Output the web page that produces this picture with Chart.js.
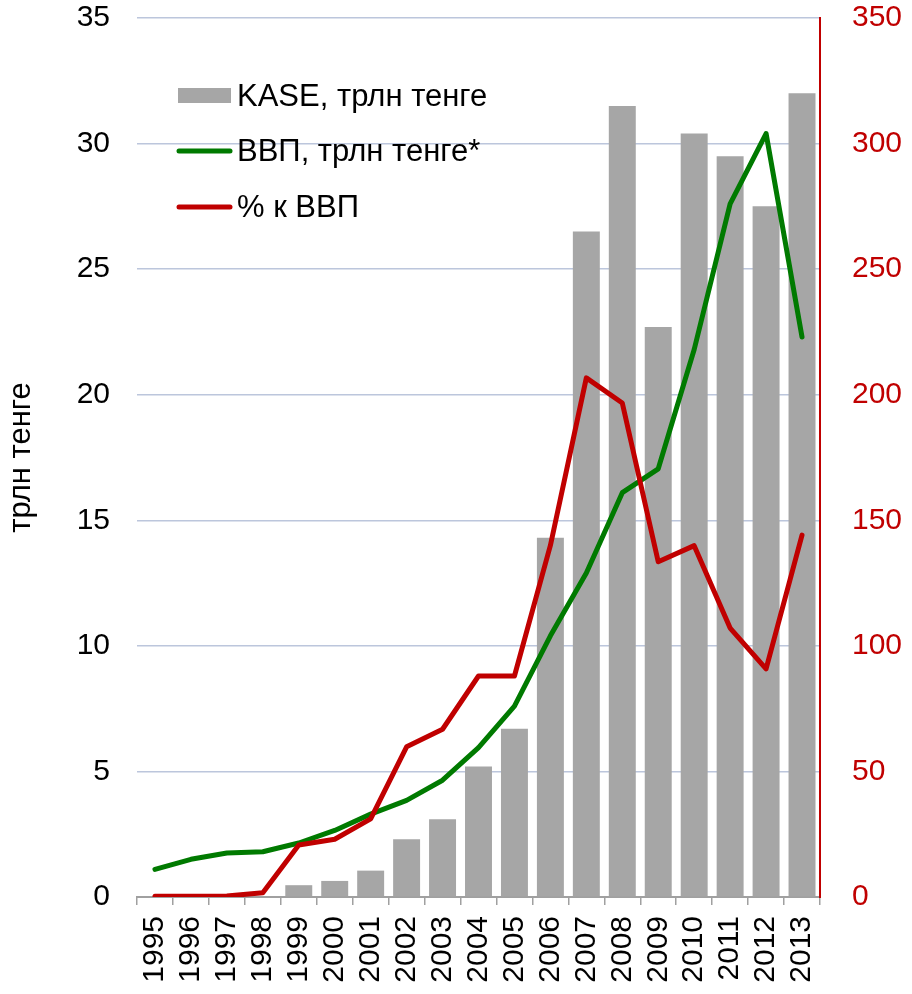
<!DOCTYPE html>
<html><head><meta charset="utf-8">
<script src="https://cdn.jsdelivr.net/npm/chart.js@4"></script>
<style>html,body{margin:0;padding:0;background:#fff}#wrap{width:912px;height:994px;position:relative}</style>
</head><body><div id="wrap"><canvas id="c" width="912" height="994"></canvas></div>
<script>
const years = ['1995','1996','1997','1998','1999','2000','2001','2002','2003','2004','2005','2006','2007','2008','2009','2010','2011','2012','2013'];
const kase = [0,0,0,0,0.47,0.64,1.05,2.3,3.1,5.2,6.7,14.3,26.5,31.5,22.7,30.4,29.5,27.5,32.0];
const gdp = [1.1,1.5,1.75,1.8,2.15,2.65,3.3,3.85,4.65,5.95,7.6,10.4,12.9,16.1,17.05,21.8,27.6,30.4,22.3];
const pctGdp = [0.3,0.3,0.4,1.7,20.7,23.0,31.1,59.8,66.8,88.0,88.0,140,206.7,196.7,133.5,139.9,107.1,90.8,144.1];
const seriesNames = ['KASE, трлн тенге','ВВП, трлн тенге*','% к ВВП'];
const leftAxisTitle = 'трлн тенге';
const leftMax = 35, leftStep = 5, rightMax = 350, rightStep = 50;

const FONT = "'Liberation Sans', Arial, sans-serif";
const GRAY = '#a6a6a6', GREEN = '#007a00', RED = '#c00000';

const legendPlugin = {
  id: 'customLegend',
  afterDraw(chart) {
    const ctx = chart.ctx;
    const ds = chart.data.datasets;
    const x0 = 178, sw = 53, tx = 237;
    const centers = [96, 151, 207];
    const baselines = [106, 161, 217];
    ctx.save();
    ctx.font = '31px ' + FONT;
    ctx.textBaseline = 'alphabetic';
    ds.forEach((d, i) => {
      const y = centers[i];
      if (d.type === 'bar') {
        ctx.fillStyle = d.backgroundColor;
        ctx.fillRect(x0, y - 8, sw, 15);
      } else {
        ctx.strokeStyle = d.borderColor;
        ctx.lineWidth = 5;
        ctx.lineCap = 'round';
        ctx.beginPath(); ctx.moveTo(x0 + 1, y); ctx.lineTo(x0 + sw - 1, y); ctx.stroke();
      }
      ctx.fillStyle = '#000';
      ctx.fillText(d.label, tx, baselines[i]);
    });
    ctx.restore();
  }
};

new Chart(document.getElementById('c'), {
  data: {
    labels: years,
    datasets: [
      { type: 'bar', label: seriesNames[0], data: kase, backgroundColor: GRAY, yAxisID: 'y', order: 3,
        barPercentage: 0.75, categoryPercentage: 1.0 },
      { type: 'line', label: seriesNames[1], data: gdp, borderColor: GREEN, borderWidth: 5, pointRadius: 0,
        tension: 0, yAxisID: 'y', order: 2, borderCapStyle: 'round', borderJoinStyle: 'round' },
      { type: 'line', label: seriesNames[2], data: pctGdp, borderColor: RED, borderWidth: 5, pointRadius: 0,
        tension: 0, yAxisID: 'y1', order: 1, borderCapStyle: 'round', borderJoinStyle: 'round' }
    ]
  },
  options: {
    responsive: false,
    animation: false,
    devicePixelRatio: 1,
    layout: { padding: { top: 0, bottom: 0, left: 0, right: 0 } },
    plugins: { legend: { display: false }, tooltip: { enabled: false } },
    scales: {
      x: {
        offset: true,
        grid: { offset: true, drawOnChartArea: false, drawTicks: true, tickLength: 8, color: '#a0a0a0', lineWidth: 1.5 },
        border: { display: true, color: '#a0a0a0', width: 2 },
        ticks: { minRotation: 90, maxRotation: 90, autoSkip: false, padding: 11, color: '#000', font: { family: FONT, size: 30 } },
        afterFit(s) { s.height = 97; }
      },
      y: {
        position: 'left', min: 0, max: leftMax,
        ticks: { stepSize: leftStep, padding: 0, color: '#000', font: { family: FONT, size: 30 } },
        grid: { color: '#bcc6dc', lineWidth: 1.5, drawTicks: true, tickLength: 27, tickColor: 'rgba(0,0,0,0)' },
        border: { display: false },
        title: { display: true, text: leftAxisTitle, color: '#000', font: { family: FONT, size: 31 }, padding: 3 },
        afterFit(s) { s.width = 137; }
      },
      y1: {
        position: 'right', min: 0, max: rightMax,
        ticks: { stepSize: rightStep, padding: 0, color: RED, font: { family: FONT, size: 30 } },
        grid: { drawOnChartArea: false, drawTicks: true, tickLength: 32, tickColor: 'rgba(0,0,0,0)' },
        border: { display: true, color: RED, width: 2 },
        afterFit(s) { s.width = 92; }
      }
    }
  },
  plugins: [legendPlugin]
});
</script></body></html>
